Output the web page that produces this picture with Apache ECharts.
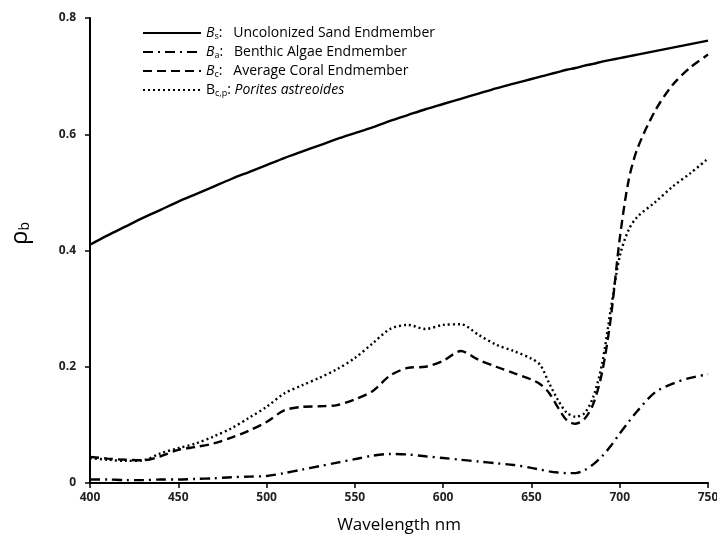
<!DOCTYPE html>
<html>
<head>
<meta charset="utf-8">
<script src="https://cdn.jsdelivr.net/npm/echarts@6/dist/echarts.min.js"></script>
<style>
  html, body { margin: 0; padding: 0; background: #fff; }
  #chart { width: 717px; height: 539px; }
</style>
</head>
<body>
<div id="chart"></div>
<script>
// wavelength grid (nm)
const wavelengths = [400,410,420,430,440,450,460,470,480,490,500,510,520,530,540,550,560,570,580,590,600,610,620,630,640,650,655,660,665,670,675,680,685,690,695,700,705,710,720,730,740,750];

// Bs: uncolonized sand endmember
const sand = [0.41,0.426,0.441,0.456,0.47,0.484,0.497,0.51,0.523,0.535,0.547,0.559,0.57,0.581,0.592,0.602,0.612,0.623,0.633,0.643,0.652,0.661,0.67,0.679,0.687,0.695,0.699,0.703,0.707,0.711,0.714,0.718,0.721,0.725,0.728,0.731,0.734,0.737,0.743,0.749,0.755,0.761];
// Ba: benthic algae endmember
const algae = [0.006,0.006,0.005,0.005,0.006,0.006,0.007,0.008,0.01,0.011,0.012,0.017,0.023,0.029,0.035,0.041,0.047,0.05,0.049,0.046,0.043,0.04,0.037,0.034,0.031,0.026,0.023,0.02,0.018,0.017,0.017,0.022,0.032,0.046,0.064,0.085,0.105,0.124,0.156,0.171,0.181,0.187];
// Bc: average coral endmember
const coral = [0.045,0.042,0.04,0.039,0.046,0.057,0.062,0.068,0.078,0.09,0.105,0.125,0.131,0.132,0.134,0.144,0.158,0.185,0.198,0.2,0.21,0.227,0.212,0.2,0.189,0.178,0.17,0.155,0.13,0.108,0.102,0.11,0.136,0.19,0.285,0.42,0.52,0.575,0.64,0.685,0.715,0.737];
// Bc,p: Porites astreoides
const porites = [0.043,0.04,0.038,0.039,0.051,0.06,0.068,0.08,0.094,0.112,0.131,0.154,0.168,0.181,0.196,0.215,0.24,0.265,0.272,0.265,0.272,0.273,0.255,0.238,0.227,0.214,0.203,0.172,0.143,0.121,0.114,0.12,0.148,0.205,0.3,0.39,0.435,0.458,0.483,0.51,0.533,0.558];

const seriesNames = ['sand', 'algae', 'coral', 'porites'];
const legendLabels = {
  sand: '{i|B}{sub|s}{t|:   Uncolonized Sand Endmember}',
  algae: '{i|B}{sub|a}{t|:   Benthic Algae Endmember}',
  coral: '{i|B}{sub|c}{t|:   Average Coral Endmember}',
  porites: '{t|B}{sub|c,p}{t|: }{i|Porites astreoides}'
};

const pair = (ys) => wavelengths.map((w, i) => [w, ys[i]]);

const chart = echarts.init(document.getElementById('chart'));
const font = '"Open Sans", "DejaVu Sans", sans-serif';

function line(name, data, type) {
  return {
    name: name,
    type: 'line',
    data: pair(data),
    smooth: 0.3,
    symbol: 'none',
    lineStyle: { color: '#000', width: 2.4, type: type },
    itemStyle: { color: '#000' }
  };
}

chart.setOption({
  animation: false,
  textStyle: { fontFamily: font },
  grid: { left: 90, right: 9, top: 18, bottom: 56, outerBoundsMode: 'none', containLabel: false },
  legend: {
    orient: 'vertical',
    left: 137,
    top: 19,
    itemWidth: 58,
    itemHeight: 10,
    itemGap: 1,
    data: seriesNames,
    itemStyle: { opacity: 0 },
    formatter: (n) => legendLabels[n],
    textStyle: {
      color: '#000',
      fontSize: 14,
      lineHeight: 18,
      rich: {
        i: { fontSize: 14, fontStyle: 'italic', color: '#000', lineHeight: 18 },
        t: { fontSize: 14, color: '#000', lineHeight: 18 },
        sub: { fontSize: 9, color: '#000', lineHeight: 18, padding: [7, 0, 0, 0] }
      }
    }
  },
  xAxis: {
    type: 'value',
    min: 400,
    max: 750,
    interval: 50,
    name: 'Wavelength nm',
    nameLocation: 'middle',
    nameGap: 34,
    nameTextStyle: { fontSize: 17, color: '#000', fontFamily: font },
    axisLine: { lineStyle: { color: '#000', width: 2 } },
    axisTick: { lineStyle: { color: '#000', width: 1.5 }, length: 5 },
    axisLabel: { color: '#222', fontWeight: 'bold', fontSize: 12, margin: 9 },
    splitLine: { show: false }
  },
  yAxis: {
    type: 'value',
    min: 0,
    max: 0.8,
    interval: 0.2,
    name: '{r|ρ}{s|b}',
    nameLocation: 'middle',
    nameRotate: 90,
    nameGap: 58,
    nameTextStyle: {
      color: '#000',
      padding: [0, 0, 0, 34],
      rich: {
        r: { fontSize: 24, color: '#000' },
        s: { fontSize: 14, color: '#000', padding: [10, 0, 0, 0] }
      }
    },
    axisLine: { show: true, lineStyle: { color: '#000', width: 2 } },
    axisTick: { show: true, lineStyle: { color: '#000', width: 1.5 }, length: 5 },
    axisLabel: {
      color: '#222',
      fontWeight: 'bold',
      fontSize: 12,
      margin: 14,
      formatter: (v) => (v === 0 ? '0' : v.toFixed(1))
    },
    splitLine: { show: false }
  },
  series: [
    line('sand', sand, 'solid'),
    line('algae', algae, [10, 5, 2, 5]),
    line('coral', coral, [9, 5]),
    line('porites', porites, [2, 3])
  ]
});
</script>
</body>
</html>
